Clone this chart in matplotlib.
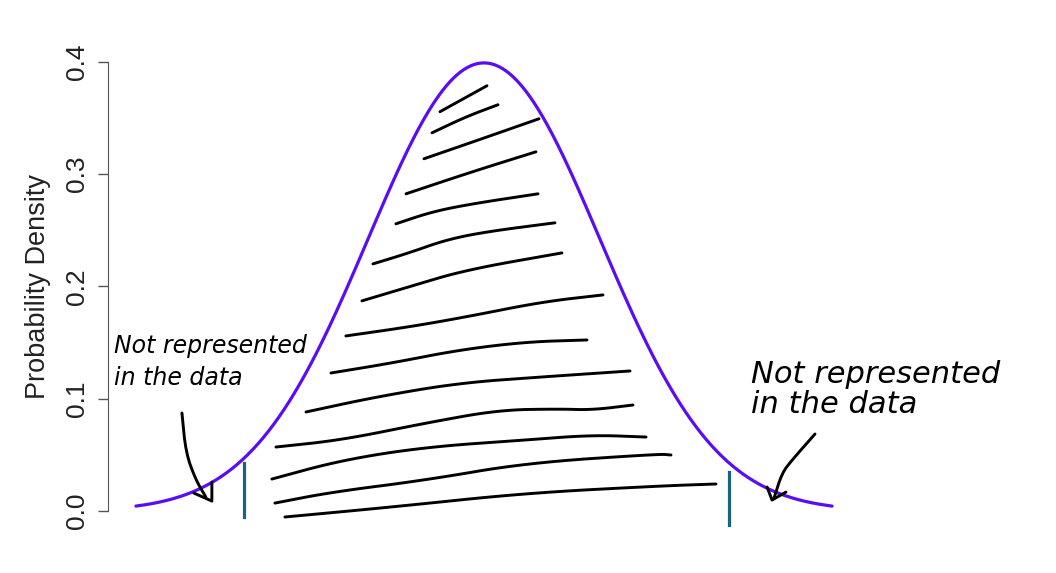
import numpy as np
from matplotlib import pyplot as plt

# normal density curve, drawn over -3..3 like curve(dnorm, -3, 3)
mu = 0.0
sigma = 1.0
x_from, x_to = -3.0, 3.0

# hand-drawn hatching strokes inside the curve (x in sd units, y in density)
hatch_x = [
    [-0.379, 0.026],
    [-0.448, -0.155, 0.121],
    [-0.517, -0.043, 0.474],
    [-0.672, -0.103, 0.448],
    [-0.759, -0.448, -0.103, 0.466],
    [-0.957, -0.647, -0.328, 0.017, 0.612],
    [-1.052, -0.647, -0.155, 0.672],
    [-1.190, -0.647, -0.155, 0.500, 1.026],
    [-1.319, -0.793, -0.216, 0.362, 0.888],
    [-1.534, -0.931, -0.216, 0.500, 1.259],
    [-1.793, -1.224, -0.500, 0.129, 0.647, 0.931, 1.284],
    [-1.828, -1.224, -0.500, 0.362, 0.931, 1.397],
    [-1.802, -1.310, -0.500, 0.362, 1.509, 1.612],
    [-1.716, -0.793, 0.362, 1.509, 2.000],
]
hatch_y = [
    [0.3555, 0.3786],
    [0.3367, 0.3510, 0.3617],
    [0.3136, 0.3305, 0.3492],
    [0.2824, 0.3020, 0.3198],
    [0.2557, 0.2664, 0.2735, 0.2824],
    [0.2200, 0.2298, 0.2414, 0.2486, 0.2566],
    [0.1871, 0.1996, 0.2147, 0.2298],
    [0.1559, 0.1639, 0.1728, 0.1862, 0.1924],
    [0.1229, 0.1318, 0.1434, 0.1506, 0.1523],
    [0.0882, 0.1016, 0.1140, 0.1194, 0.1247],
    [0.0570, 0.0633, 0.0784, 0.0900, 0.0909, 0.0900, 0.0944],
    [0.0285, 0.0454, 0.0570, 0.0633, 0.0677, 0.0659],
    [0.0071, 0.0169, 0.0276, 0.0428, 0.0508, 0.0499],
    [-0.0053, 0.0036, 0.0160, 0.0223, 0.0241],
]

# the two cut-off markers
cut_x = [-2.069, 2.112]
cut_lo = [-0.0053, -0.0125]
cut_hi = [0.0428, 0.0347]

# hand-drawn arrows (shaft + head)
arrow_left_x = [-2.603, -2.569, -2.483, -2.397]
arrow_left_y = [0.0873, 0.0517, 0.0276, 0.0125]
head_left_x = [-2.500, -2.345, -2.345]
head_left_y = [0.0160, 0.0089, 0.0258]
arrow_right_x = [2.853, 2.655, 2.569, 2.500]
arrow_right_y = [0.0686, 0.0454, 0.0339, 0.0116]
head_right_x = [2.440, 2.483, 2.603]
head_right_y = [0.0214, 0.0098, 0.0169]

note_lines = ['Not represented', 'in the data']
note_left_y = [0.1408, 0.1123]
note_right_y = [0.1140, 0.0873]
yticks = [0.0, 0.1, 0.2, 0.3, 0.4]


def smooth(xs, ys, rounds=3):
    # chaikin corner cutting so the pen strokes look less angular
    pts = np.column_stack([xs, ys])
    for _ in range(rounds):
        if len(pts) < 3:
            break
        q = 0.75 * pts[:-1] + 0.25 * pts[1:]
        r = 0.25 * pts[:-1] + 0.75 * pts[1:]
        mid = np.empty((2 * len(q), 2))
        mid[0::2] = q
        mid[1::2] = r
        pts = np.vstack([pts[:1], mid, pts[-1:]])
    return pts[:, 0], pts[:, 1]


fig = plt.figure(figsize=(10.56, 5.73), dpi=100)
ax = fig.add_axes([0.1023, 0.0768, 0.712, 0.8447])

x = np.linspace(x_from, x_to, 400)
dens = np.exp(-0.5 * ((x - mu) / sigma) ** 2) / (sigma * np.sqrt(2 * np.pi))
ax.plot(x, dens, color='#5a0cf5', lw=2.3, solid_capstyle='round')

for hx, hy in zip(hatch_x, hatch_y):
    sx, sy = smooth(hx, hy)
    ax.plot(sx, sy, color='black', lw=2.1, solid_capstyle='round',
            solid_joinstyle='round')

for cx, lo, hi in zip(cut_x, cut_lo, cut_hi):
    ax.plot([cx, cx], [lo, hi], color='#1b6187', lw=2.3)

for ax_x, ax_y in [(arrow_left_x, arrow_left_y), (arrow_right_x, arrow_right_y)]:
    sx, sy = smooth(ax_x, ax_y, rounds=2)
    ax.plot(sx, sy, color='black', lw=2.1, solid_capstyle='round')
for hx, hy in [(head_left_x, head_left_y), (head_right_x, head_right_y)]:
    ax.plot(hx, hy, color='black', lw=2.1, solid_capstyle='round',
            solid_joinstyle='round')

for line, yl, yr in zip(note_lines, note_left_y, note_right_y):
    ax.text(-3.19, yl, line, fontsize=17, fontstyle='italic',
            family='DejaVu Sans', va='baseline', ha='left', clip_on=False)
    ax.text(2.302, yr, line, fontsize=22, fontstyle='italic',
            family='DejaVu Sans', va='baseline', ha='left', clip_on=False)

ax.set_xlim(-3.24, 3.24)
ax.set_ylim(-0.01596, 0.41489)
ax.set_xticks([])
ax.set_yticks(yticks)
ax.set_yticklabels([f'{t:.1f}' for t in yticks], rotation=90, va='center',
                   family='Liberation Sans', fontsize=19, color='#222222')
ax.tick_params(axis='y', length=7, width=1, color='#555555', pad=7)
for side in ['top', 'right', 'bottom']:
    ax.spines[side].set_visible(False)
ax.spines['left'].set_bounds(0, 0.4)
ax.spines['left'].set_color('#555555')
ax.set_ylabel('Probability Density', family='Liberation Sans', fontsize=19.5,
              color='#222222', labelpad=10)
ax.patch.set_visible(False)

fig.savefig('out.png', dpi=100)
